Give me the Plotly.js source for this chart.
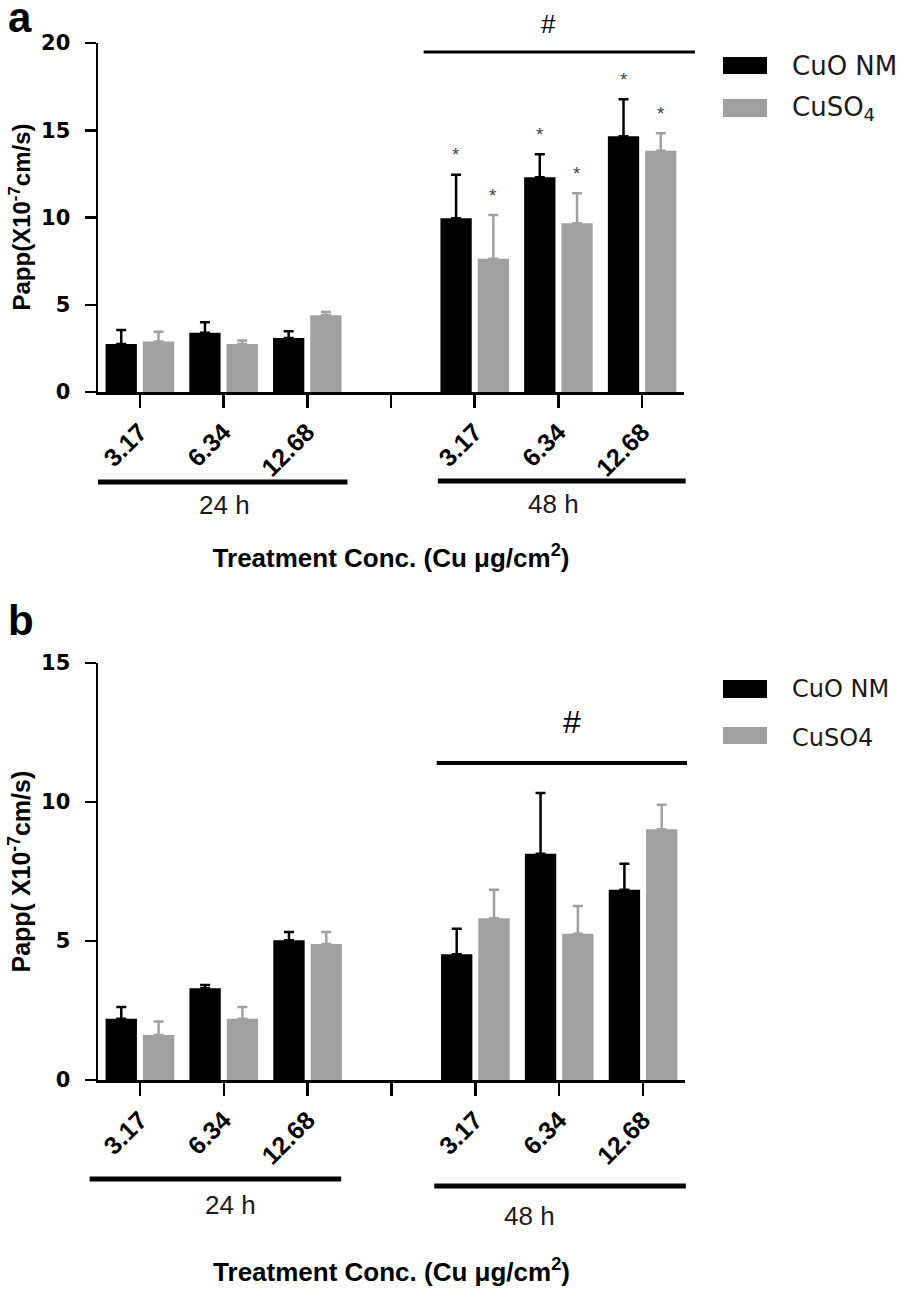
<!DOCTYPE html>
<html>
<head>
<meta charset="utf-8">
<script src="https://cdn.plot.ly/plotly-3.0.1.min.js"></script>
<style>
html,body{margin:0;padding:0;background:#ffffff;}
#chart{width:898px;height:1294px;}
</style>
</head>
<body>
<div id="chart"></div>
<script>
// ---------------- DATA ----------------
const concLabels = ['3.17', '6.34', '12.68'];
const timeLabels = ['24 h', '48 h'];
const seriesNamesA = ['CuO NM', 'CuSO<sub>4</sub>'];
const seriesNamesB = ['CuO NM', 'CuSO4'];
const yTitleA = 'Papp(X10<sup>-7</sup>cm/s)';
const yTitleB = 'Papp( X10<sup>-7</sup>cm/s)';
const xTitle = 'Treatment Conc. (Cu \u03bcg/cm<sup>2</sup>)';

// Panel a: values ordered 24 h (3.17, 6.34, 12.68) then 48 h (3.17, 6.34, 12.68)
const cuoA      = [2.75, 3.40, 3.10, 9.95, 12.30, 14.65];
const cuoA_err  = [0.80, 0.60, 0.38, 2.50, 1.32, 2.12];
const cuso4A     = [2.90, 2.75, 4.40, 7.64, 9.67, 13.83];
const cuso4A_err = [0.55, 0.20, 0.18, 2.50, 1.72, 1.00];
const starsA_cuo   = [false, false, false, true, true, true];
const starsA_cuso4 = [false, false, false, true, true, true];

// Panel b
const cuoB      = [2.20, 3.30, 5.03, 4.52, 8.14, 6.84];
const cuoB_err  = [0.43, 0.12, 0.29, 0.92, 2.18, 0.94];
const cuso4B     = [1.62, 2.20, 4.89, 5.82, 5.26, 9.02];
const cuso4B_err = [0.48, 0.43, 0.43, 1.02, 1.00, 0.88];

// ---------------- STYLE / GEOMETRY ----------------
const W = 898, H = 1294;
const BLACK = '#000000', GREY = '#a0a0a0';
const ARIAL = 'Liberation Sans, Arial, sans-serif';
const DEJAVU = 'DejaVu Sans, sans-serif';
const px = v => v / W;          // pixel x -> paper
const py = v => 1 - v / H;      // pixel y -> paper
const BARGAP = 0.11, GROUPGAP = 0.16;

// x positions: one slot per concentration, a blank slot between time groups
const xPos = [];
timeLabels.forEach((t, ti) => concLabels.forEach((c, ci) => xPos.push(ti * (concLabels.length + 1) + ci)));
const tickVals = [], tickText = [];
for (let i = 0; i < concLabels.length * 2 + 1; i++) {
  tickVals.push(i);
  tickText.push(i < concLabels.length ? concLabels[i] : (i === concLabels.length ? '' : concLabels[i - concLabels.length - 1]));
}
const XR = [-0.5, 6.5];

function barTrace(name, y, err, color, xa, ya, legendgroup) {
  return {
    type: 'bar', name: name, x: xPos, y: y, xaxis: xa, yaxis: ya,
    marker: {color: color, line: {width: 0}},
    error_y: {type: 'data', symmetric: false, array: err, arrayminus: err.map(() => 0),
              color: color, thickness: 2.5, width: 5},
    showlegend: false, legendgroup: legendgroup, hoverinfo: 'y'
  };
}

const data = [
  barTrace('CuO NM', cuoA, cuoA_err, BLACK, 'x', 'y', 'cuo'),
  barTrace('CuSO4', cuso4A, cuso4A_err, GREY, 'x', 'y', 'cuso4'),
  barTrace('CuO NM', cuoB, cuoB_err, BLACK, 'x2', 'y2', 'cuo'),
  barTrace('CuSO4', cuso4B, cuso4B_err, GREY, 'x2', 'y2', 'cuso4')
];

const tickFontX = {family: ARIAL, size: 25, color: '#000', weight: 'bold'};
const tickFontY = {family: DEJAVU, size: 21, color: '#000', weight: 'bold'};
const titleFont = {family: ARIAL, size: 26, color: '#000', weight: 'bold'};

function xAxis(domain, anchor, standoff) {
  return {
    domain: domain, anchor: anchor, range: XR, tickmode: 'array', tickvals: tickVals, ticktext: tickText,
    tickangle: -45, ticks: 'outside', ticklen: 13, tickwidth: 2.5, tickcolor: '#000',
    showline: true, linewidth: 2.5, linecolor: '#000', showgrid: false, zeroline: false,
    tickfont: tickFontX, fixedrange: true,
    title: {text: xTitle, font: titleFont, standoff: standoff}
  };
}
function yAxis(domain, anchor, max) {
  return {
    domain: domain, anchor: anchor, range: [0, max], dtick: 5, ticks: 'outside', ticklen: 11,
    tickwidth: 2.5, tickcolor: '#000', showline: true, linewidth: 2.5, linecolor: '#000',
    showgrid: false, zeroline: false, tickfont: tickFontY, ticklabelstandoff: 10, fixedrange: true
  };
}

const domA = {x: [px(98), px(684)], y: [py(392), py(43)]};
const domB = {x: [px(98), px(685)], y: [py(1080), py(663)]};

// convert data x of an axis into paper x
function dx(v, dom) { return dom.x[0] + (v - XR[0]) / (XR[1] - XR[0]) * (dom.x[1] - dom.x[0]); }

const shapes = [];
const annotations = [];

function addText(text, xp, yp, size, opts) {
  annotations.push(Object.assign({
    text: text, xref: 'paper', yref: 'paper', x: xp, y: yp, showarrow: false,
    xanchor: 'center', yanchor: 'middle',
    font: {family: ARIAL, size: size, color: '#1a1a1a'}
  }, opts || {}));
}
function hline(x0, x1, yp, w) {
  shapes.push({type: 'line', xref: 'paper', yref: 'paper', x0: x0, x1: x1, y0: yp, y1: yp,
               line: {color: '#000', width: w}});
}
function rect(x0, x1, y0, y1, color) {
  shapes.push({type: 'rect', xref: 'paper', yref: 'paper', x0: px(x0), x1: px(x1), y0: py(y0), y1: py(y1),
               fillcolor: color, line: {width: 0}});
}

// y-axis titles (vertical)
addText(yTitleA, px(19), (domA.y[0] + domA.y[1]) / 2, 24,
  {textangle: -90, font: {family: ARIAL, size: 24, color: '#000', weight: 'bold'}});
addText(yTitleB, px(20), (domB.y[0] + domB.y[1]) / 2, 25,
  {textangle: -90, font: {family: ARIAL, size: 25, color: '#000', weight: 'bold'}});

// asterisks (panel a)
const slotOff = (1 - BARGAP) / 4;
function stars(vals, errs, flags, shift) {
  vals.forEach((v, i) => {
    if (!flags[i]) return;
    annotations.push({text: '*', xref: 'x', yref: 'y', x: xPos[i] + shift, y: v + errs[i],
      showarrow: false, yanchor: 'middle', yshift: 20,
      font: {family: ARIAL, size: 19, color: '#444'}});
  });
}
stars(cuoA, cuoA_err, starsA_cuo, -slotOff);
stars(cuso4A, cuso4A_err, starsA_cuso4, slotOff);

// panel letters
addText('a', px(20), py(17), 42, {font: {family: ARIAL, size: 42, color: '#000', weight: 'bold'}});
addText('b', px(21), py(620), 42, {font: {family: ARIAL, size: 42, color: '#000', weight: 'bold'}});

// significance brackets (#)
hline(dx(3.39, domA), px(695), py(52), 3);
addText('#', px(548), py(24), 26, {font: {family: ARIAL, size: 26, color: '#000'}});
hline(dx(3.54, domB), px(687), py(763), 4);
addText('#', px(572), py(722), 32, {font: {family: ARIAL, size: 32, color: '#000'}});

// time-group underlines and labels
hline(dx(-0.5, domA), dx(2.48, domA), py(482), 5);
hline(dx(3.56, domA), dx(6.52, domA), py(481), 5);
addText(timeLabels[0], px(224), py(505), 26);
addText(timeLabels[1], px(553), py(504), 26);
hline(dx(-0.6, domB), dx(2.4, domB), py(1179), 5);
hline(dx(3.51, domB), dx(6.51, domB), py(1186), 5);
addText(timeLabels[0], px(230), py(1205), 26);
addText(timeLabels[1], px(529), py(1216), 26);

// legends
rect(723, 767, 57, 74, BLACK);
rect(723, 767, 99, 117, GREY);
addText(seriesNamesA[0], px(790), py(66), 26, {xanchor: 'left', font: {family: DEJAVU, size: 26, color: '#1a1a1a'}});
addText(seriesNamesA[1], px(790), py(108), 26, {xanchor: 'left', font: {family: DEJAVU, size: 26, color: '#1a1a1a'}});
rect(723, 767, 680, 698, BLACK);
rect(723, 767, 727, 744, GREY);
addText(seriesNamesB[0], px(790), py(689), 24, {xanchor: 'left', font: {family: DEJAVU, size: 24, color: '#1a1a1a'}});
addText(seriesNamesB[1], px(790), py(738), 24, {xanchor: 'left', font: {family: DEJAVU, size: 24, color: '#1a1a1a'}});

const layout = {
  width: W, height: H, margin: {l: 0, r: 0, t: 0, b: 0},
  paper_bgcolor: '#fff', plot_bgcolor: '#fff',
  barmode: 'group', bargap: BARGAP, bargroupgap: GROUPGAP,
  showlegend: false,
  xaxis: xAxis(domA.x, 'y', 68),
  yaxis: yAxis(domA.y, 'x', 20),
  xaxis2: xAxis(domB.x, 'y2', 94),
  yaxis2: yAxis(domB.y, 'x2', 15),
  shapes: shapes, annotations: annotations
};

Plotly.newPlot('chart', data, layout, {displayModeBar: false, staticPlot: true});
</script>
</body>
</html>
